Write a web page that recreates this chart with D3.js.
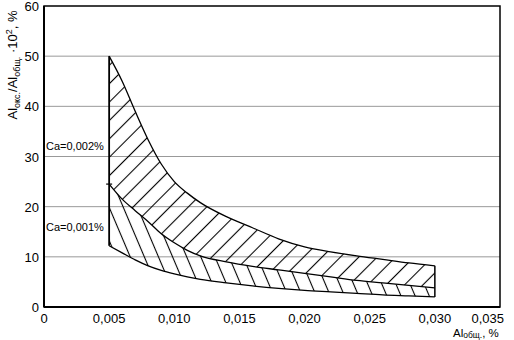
<!DOCTYPE html>
<html>
<head>
<meta charset="utf-8">
<script src="https://cdn.jsdelivr.net/npm/d3@7"></script>
<style>
  body { margin: 0; background: #fff; }
  text { font-family: "Liberation Sans", Arial, sans-serif; fill: #000; }
</style>
</head>
<body>
<svg id="chart" width="514" height="340"></svg>
<script>
// Al общ., % along x
const alTotal = [0.005, 0.006, 0.007, 0.008, 0.009, 0.010, 0.011, 0.012, 0.014, 0.016, 0.018, 0.020, 0.022, 0.024, 0.026, 0.028, 0.030]
// upper edge of Ca=0,002% band
const ca002Top = [50, 45, 39, 33.3, 28.5, 25, 22.7, 20.8, 18, 15.8, 13.6, 12, 11, 10.2, 9.5, 8.8, 8.2]
// shared edge (bottom of 0,002% band, top of 0,001% band)
const ca002Bottom = [24.5, 21.5, 19.2, 17, 14.6, 12.8, 11.3, 10.2, 9.0, 8.1, 7.4, 6.7, 6.0, 5.3, 4.8, 4.3, 3.8]
// lower edge of Ca=0,001% band
const ca001Bottom = [12.2, 10.8, 9.4, 8.2, 7.3, 6.6, 6.0, 5.5, 4.8, 4.2, 3.7, 3.3, 3.0, 2.7, 2.4, 2.2, 2.0]

const xTicks = [0, 0.005, 0.010, 0.015, 0.020, 0.025, 0.030, 0.035]
const yTicks = [0, 10, 20, 30, 40, 50, 60]
const bandLabels = [{ text: 'Ca=0,002%', y: 32 }, { text: 'Ca=0,001%', y: 16 }]

const fmt = d => d === 0 ? '0' : d3.format('.3f')(d).replace('.', ',')

const svg = d3.select('#chart')
const mLeft = 44, mRight = 500, mTop = 6, mBottom = 307
const x = d3.scaleLinear().domain([0, 0.035]).range([mLeft, mRight])
const y = d3.scaleLinear().domain([0, 60]).range([mBottom, mTop])

const defs = svg.append('defs')
function hatch (id, angle, gap) {
    const p = defs.append('pattern').attr('id', id).attr('patternUnits', 'userSpaceOnUse').
        attr('width', gap).attr('height', gap).attr('patternTransform', `rotate(${angle})`)
    p.append('line').attr('x1', gap / 2).attr('x2', gap / 2).attr('y1', 0).attr('y2', gap).
        attr('stroke', '#000').attr('stroke-width', 1.1)
}
hatch('h002', 45, 13)
hatch('h001', -23, 13)

// gridlines
svg.append('g').selectAll('line').data(yTicks.filter(d => d > 0 && d < 60)).enter().append('line').
    attr('x1', mLeft).attr('x2', mRight).attr('y1', d => y(d)).attr('y2', d => y(d)).
    attr('stroke', '#999').attr('stroke-width', 1)

const rows = alTotal.map((a, i) => ({ a, t: ca002Top[i], m: ca002Bottom[i], b: ca001Bottom[i] }))
const area = (hi, lo) => d3.area().x(d => x(d.a)).y0(d => y(d[lo])).y1(d => y(d[hi])).curve(d3.curveMonotoneX)

svg.append('path').attr('d', area('t', 'm')(rows)).attr('fill', 'url(#h002)').attr('stroke', 'none')
svg.append('path').attr('d', area('m', 'b')(rows)).attr('fill', 'url(#h001)').attr('stroke', 'none')

const line = key => d3.line().x(d => x(d.a)).y(d => y(d[key])).curve(d3.curveMonotoneX)
;['t', 'm', 'b'].forEach(k => {
    svg.append('path').attr('d', line(k)(rows)).attr('fill', 'none').attr('stroke', '#000').attr('stroke-width', 1.3)
})
const first = rows[0], last = rows[rows.length - 1]
// left edge and right edge
svg.append('line').attr('x1', x(first.a)).attr('x2', x(first.a)).attr('y1', y(first.t)).attr('y2', y(first.b)).
    attr('stroke', '#000').attr('stroke-width', 1.8)
svg.append('line').attr('x1', x(first.a) - 3).attr('x2', x(first.a) + 3).attr('y1', y(first.m)).attr('y2', y(first.m)).
    attr('stroke', '#000').attr('stroke-width', 1.2)
svg.append('line').attr('x1', x(last.a)).attr('x2', x(last.a)).attr('y1', y(last.t)).attr('y2', y(last.b)).
    attr('stroke', '#000').attr('stroke-width', 1.5)

// frame
svg.append('rect').attr('x', mLeft).attr('y', mTop).attr('width', mRight - mLeft).attr('height', mBottom - mTop).
    attr('fill', 'none').attr('stroke', '#000').attr('stroke-width', 1.5)
svg.append('line').attr('x1', mLeft).attr('x2', mLeft).attr('y1', mTop).attr('y2', mBottom).attr('stroke', '#000').attr('stroke-width', 2)
svg.append('line').attr('x1', mLeft).attr('x2', mRight).attr('y1', mBottom).attr('y2', mBottom).attr('stroke', '#000').attr('stroke-width', 2)

// tick labels
svg.append('g').selectAll('text').data(yTicks).enter().append('text').
    attr('x', 39).attr('y', d => y(d) + 5).attr('text-anchor', 'end').attr('font-size', 13).text(d => d)
svg.append('g').selectAll('text').data(xTicks).enter().append('text').
    attr('x', (d, i) => i === xTicks.length - 1 ? 504 : x(d)).
    attr('y', 323).attr('text-anchor', (d, i) => i === xTicks.length - 1 ? 'end' : 'middle').
    attr('font-size', 13).text(fmt)

// band labels
svg.append('g').selectAll('text').data(bandLabels).enter().append('text').
    attr('x', 46).attr('y', d => y(d.y) + 4).attr('font-size', 11).text(d => d.text)

// axis titles
const yt = svg.append('text').attr('transform', 'translate(17,65) rotate(-90)').attr('text-anchor', 'middle').attr('font-size', 13)
yt.append('tspan').text('Al')
yt.append('tspan').attr('font-size', 9).attr('dy', 3).text('окс.')
yt.append('tspan').attr('dy', -3).text('/Al')
yt.append('tspan').attr('font-size', 9).attr('dy', 3).text('общ.')
yt.append('tspan').attr('dy', -3).text(' ·10')
yt.append('tspan').attr('font-size', 9).attr('dy', -5).text('2')
yt.append('tspan').attr('dy', 5).text(', %')

const xt = svg.append('text').attr('x', 453).attr('y', 337).attr('font-size', 11.5)
xt.append('tspan').text('Al')
xt.append('tspan').attr('font-size', 8.5).attr('dy', 1).text('общ.')
xt.append('tspan').attr('dy', -1).text(', %')
</script>
</body>
</html>
